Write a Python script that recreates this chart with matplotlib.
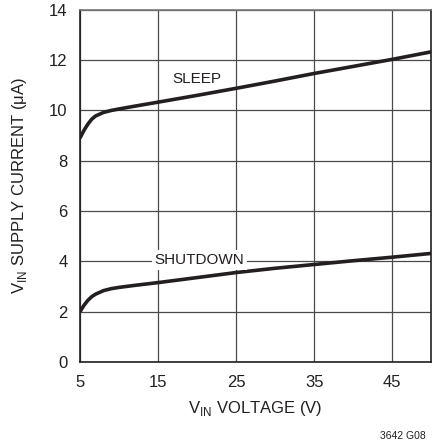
import matplotlib
matplotlib.use("Agg")
import matplotlib.pyplot as plt

plt.rcParams["font.family"] = ["Liberation Sans", "DejaVu Sans"]

# VIN (V) vs supply current (uA)
vin = [5, 5.5, 6, 6.5, 7, 8, 9, 10, 12, 15, 20, 25, 30, 35, 40, 45, 50]
sleep = [8.9, 9.2, 9.45, 9.65, 9.78, 9.92, 10.0, 10.06, 10.17, 10.33, 10.6, 10.88, 11.17, 11.47, 11.75, 12.03, 12.33]
shutdown = [2.0, 2.25, 2.45, 2.6, 2.7, 2.84, 2.92, 2.97, 3.05, 3.16, 3.36, 3.56, 3.73, 3.88, 4.03, 4.17, 4.32]

xticks = [5, 15, 25, 35, 45]
yticks = [0, 2, 4, 6, 8, 10, 12, 14]

fig = plt.figure(figsize=(4.32, 4.46), dpi=100)
ax = fig.add_axes([0.185, 0.188, 0.813, 0.79])

ax.plot(vin, sleep, color="#231f20", lw=2.6, solid_capstyle="butt", zorder=3)
ax.plot(vin, shutdown, color="#231f20", lw=2.6, solid_capstyle="butt", zorder=3)

ax.set_xlim(5, 50)
ax.set_ylim(0, 14)
ax.set_xticks(xticks)
ax.set_yticks(yticks)
ax.grid(True, color="#4a4a4a", lw=0.9)
ax.tick_params(length=0, labelsize=12, colors="#231f20")
ax.tick_params(axis="x", pad=9)
ax.tick_params(axis="y", pad=9)
for s in ax.spines.values():
    s.set_color("#231f20")
    s.set_linewidth(1.2)
ax.spines["top"].set_color("#777777")

ax.text(20, 11.25, "SLEEP", fontsize=11, ha="center", va="center", color="#231f20")
ax.text(20.3, 4.05, "SHUTDOWN", fontsize=11, ha="center", va="center", color="#231f20",
        bbox=dict(facecolor="white", edgecolor="none", pad=2), zorder=4)

ax.set_xlabel("V$_{\\mathregular{IN}}$ VOLTAGE (V)", fontsize=12, color="#231f20", labelpad=7)
ax.set_ylabel("V$_{\\mathregular{IN}}$ SUPPLY CURRENT (\u03bcA)", fontsize=12, color="#231f20", labelpad=14)

fig.text(0.985, 0.012, "3642 G08", fontsize=7.5, ha="right", va="bottom", color="#231f20")

fig.savefig("out.png", dpi=100)
